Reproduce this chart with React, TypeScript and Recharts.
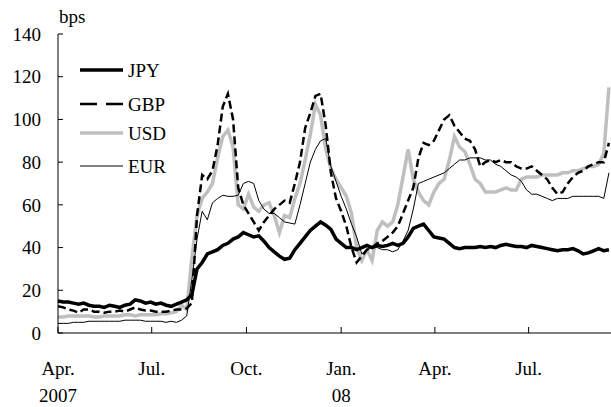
import { LineChart, Line, XAxis, YAxis, Legend } from 'recharts';

// 5-day sampling grid, days counted from 1 Apr 2007
const days = [
  0, 5, 10, 15, 20, 25, 30, 35, 40, 45, 50, 55, 60, 65, 70, 75, 80, 85, 90, 95,
  100, 105, 110, 115, 120, 125, 130, 135, 140, 145, 150, 155, 160, 165, 170, 175, 180, 185, 190, 195,
  200, 205, 210, 215, 220, 225, 230, 235, 240, 245, 250, 255, 260, 265, 270, 275, 280, 285, 290, 295,
  300, 305, 310, 315, 320, 325, 330, 335, 340, 345, 350, 355, 360, 365, 370, 375, 380, 385, 390, 395,
  400, 405, 410, 415, 420, 425, 430, 435, 440, 445, 450, 455, 460, 465, 470, 475, 480, 485, 490, 495,
  500, 505, 510, 515, 520, 525, 530, 535,
];

const monthTicks = [0, 91, 183, 275, 366, 457];
const monthLabels = ['Apr.', 'Jul.', 'Oct.', 'Jan.', 'Apr.', 'Jul.'];
const yearLabels = ['2007', '', '', '08', '', ''];
const yTicks = [0, 20, 40, 60, 80, 100, 120, 140];

const jpy = [
  15, 14.5, 14.5, 14, 13.5, 14, 13, 12.5, 12.5, 12,
  13, 12.5, 12, 13, 13.5, 15.5, 15, 14, 14.5, 13.5,
  14, 13, 12.5, 13.5, 14.5, 15.5, 18, 30, 33, 37,
  38, 39, 41, 42, 44, 45, 47, 46, 45, 45.5,
  43, 40, 38, 36, 34.5, 35, 39, 42, 45, 48,
  50, 52, 50.5, 48.5, 44, 42, 40, 40, 39, 40,
  41, 40, 41, 40.5, 41, 42, 41, 42, 45, 49,
  50, 51, 48, 45, 44.5, 44, 42, 40, 39.5, 40,
  40, 40, 40.5, 40, 40.5, 40, 41, 41.5, 41, 40.5,
  40.5, 40, 41, 40.5, 40, 39.5, 39, 38.5, 39, 39,
  39.5, 38.5, 37, 37.5, 38.5, 39.5, 38.5, 39,
];

const gbp = [
  12.5, 12, 11, 10.5, 9.5, 11, 11, 10, 10, 9.5,
  10, 10, 10.5, 10, 11, 12, 11, 10.5, 10.5, 10,
  10, 10, 10.5, 11, 11, 11.5, 14, 55, 74, 72,
  76, 88, 106, 112, 100, 68, 60, 56, 52, 48,
  52, 55, 58, 60, 62, 61, 70, 80, 96, 103,
  111, 112, 97, 75, 63, 57, 50, 40, 33, 36,
  39, 40, 42, 43, 45, 47, 50, 56, 62, 68,
  82, 89, 88, 90, 95, 100, 102, 97, 94, 91,
  90, 86, 78, 80, 81, 80, 81, 80, 80, 78,
  77, 77, 78, 76, 74, 72, 68, 65, 66, 70,
  73, 75, 76, 78, 79, 80, 80, 89,
];

const usd = [
  7.5, 7.5, 8, 8, 8, 8, 8, 7.5, 7.5, 8,
  8, 8, 8, 8.5, 8.5, 8, 8.5, 8.5, 8.5, 8.5,
  9, 9, 9.5, 10, 13, 11, 35, 55, 63, 66,
  70, 82, 92, 95, 87, 60, 58, 65, 59, 57,
  60, 61, 55, 47, 55, 54, 63, 70, 81, 93,
  107, 102, 86, 77, 72, 68, 64, 56, 40, 34,
  39, 34, 48, 52, 50, 52, 60, 73, 86, 72,
  66, 62, 60, 66, 70, 72, 81, 92, 87, 85,
  79, 72, 70, 66, 66, 66, 67, 68, 67, 67,
  72, 73, 73, 73, 74, 74, 74, 74, 75, 75,
  76, 76, 77, 78, 78, 79, 84, 115,
];

const eur = [
  4.5, 4.5, 4.5, 5, 5, 5, 5.5, 5.5, 5.5, 5.5,
  5.5, 5.5, 5.5, 6, 6, 6, 6, 5.5, 5.5, 5.5,
  5.5, 5, 5.5, 5, 6, 8, 25, 44, 57, 53,
  61, 63, 64.5, 64, 64, 64.5, 70, 71, 70, 62,
  58, 56, 56, 54, 52, 51.5, 51, 60, 70, 80,
  86, 90, 91, 78, 71, 64, 58, 51, 45, 37,
  39, 40, 40, 39, 39, 38, 39, 43, 48, 58,
  70, 71, 72, 73, 74, 75, 77, 79, 81, 81,
  82, 82, 82, 81, 81, 79, 78, 76, 74, 73,
  71, 67, 65, 65, 64, 63, 62, 63, 63, 63,
  64, 64, 64, 64, 64, 64, 63, 75,
];

const data = days.map((d, i) => ({ d, jpy: jpy[i], gbp: gbp[i], usd: usd[i], eur: eur[i] }));

const FONT = '"Liberation Serif", "Times New Roman", serif';

const series = [
  { key: 'jpy', name: 'JPY', stroke: '#000000', width: 3.5, dash: undefined as string | undefined, keyDash: undefined as string | undefined },
  { key: 'gbp', name: 'GBP', stroke: '#000000', width: 2.5, dash: '8 4', keyDash: '17 9' },
  { key: 'usd', name: 'USD', stroke: '#bfbfbf', width: 3.5, dash: undefined, keyDash: undefined },
  { key: 'eur', name: 'EUR', stroke: '#000000', width: 1, dash: undefined, keyDash: undefined },
];

// drawing order: grey under the black lines
const drawOrder = ['usd', 'gbp', 'jpy', 'eur'];

function MonthTick(props: any) {
  const { x, y, payload } = props;
  const i = monthTicks.indexOf(payload.value);
  return (
    <g>
      <text x={x} y={y + 48} textAnchor="middle" fontFamily={FONT} fontSize={19} fill="#000">
        {monthLabels[i]}
      </text>
      {yearLabels[i] ? (
        <text x={x} y={y + 75} textAnchor="middle" fontFamily={FONT} fontSize={19} fill="#000">
          {yearLabels[i]}
        </text>
      ) : null}
    </g>
  );
}

function KeyBox() {
  const rows = [18, 52, 81, 114];
  return (
    <svg width={150} height={130}>
      {series.map((s, i) => (
        <g key={s.key}>
          <line x1={2} x2={45} y1={rows[i]} y2={rows[i]} stroke={s.stroke} strokeWidth={s.width} strokeDasharray={s.keyDash} />
          <text x={50} y={rows[i] + 7} fontFamily={FONT} fontSize={19} fill="#000">
            {s.name}
          </text>
        </g>
      ))}
    </svg>
  );
}

export default function App() {
  return (
    <div style={{ position: 'absolute', left: 0, top: 0, background: '#fff' }}>
      <LineChart width={611} height={407} data={data} margin={{ top: 34, right: 0, bottom: 0, left: 0 }}>
        <XAxis
          dataKey="d"
          type="number"
          domain={[0, 537]}
          ticks={monthTicks}
          interval={0}
          height={74}
          tickSize={-6}
          tickMargin={0}
          tick={<MonthTick />}
          axisLine={{ stroke: '#000' }}
          tickLine={{ stroke: '#000' }}
        />
        <YAxis
          type="number"
          domain={[0, 140]}
          ticks={yTicks}
          interval={0}
          width={58}
          tickSize={-5}
          tickMargin={22}
          tick={{ fill: '#000', fontFamily: FONT, fontSize: 19 }}
          axisLine={{ stroke: '#000' }}
          tickLine={{ stroke: '#000' }}
          label={{
            content: () => (
              <text x={59} y={23} fontFamily={FONT} fontSize={19} fill="#000">
                bps
              </text>
            ),
          }}
        />
        <Legend
          layout="vertical"
          align="center"
          verticalAlign="middle"
          wrapperStyle={{ left: 78, top: 52, width: 150, height: 130 }}
          content={() => <KeyBox />}
        />
        {drawOrder.map((k) => {
          const s = series.find((x) => x.key === k)!;
          return (
            <Line
              key={s.key}
              dataKey={s.key}
              name={s.name}
              type="linear"
              stroke={s.stroke}
              strokeWidth={s.width}
              strokeDasharray={s.dash}
              dot={false}
              activeDot={false}
              isAnimationActive={false}
            />
          );
        })}
      </LineChart>
    </div>
  );
}
